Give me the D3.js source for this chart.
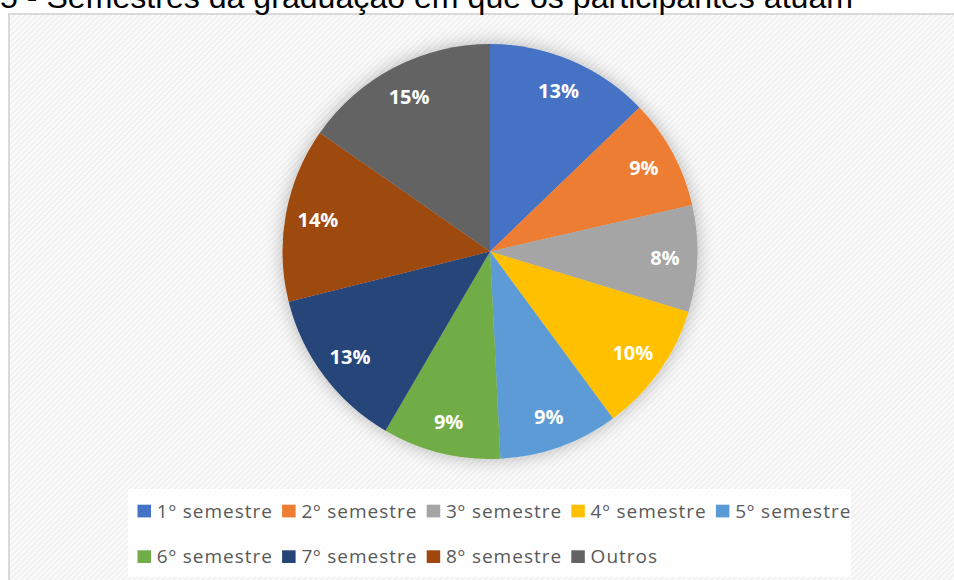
<!DOCTYPE html>
<html>
<head>
<meta charset="utf-8">
<script src="https://cdn.jsdelivr.net/npm/d3@7"></script>
<style>
  html, body { margin: 0; padding: 0; background: #ffffff; }
  svg { display: block; }
</style>
</head>
<body>
<svg id="chart" width="954" height="580"></svg>
<script>
// ---- data ----
const titleText = "5 - Semestres da graduação em que os participantes atuam";
const categories = ["1º semestre", "2º semestre", "3º semestre", "4º semestre", "5º semestre",
                    "6º semestre", "7º semestre", "8º semestre", "Outros"];
const shares = [12.8, 8.6, 8.3, 10.2, 9.3, 9.2, 12.7, 13.6, 15.3];
const colors = ["#4472C4", "#ED7D31", "#A5A5A5", "#FFC000", "#5B9BD5",
                "#70AD47", "#264478", "#9E480E", "#636363"];

const W = 954, H = 580;
const svg = d3.select("#chart");
const defs = svg.append("defs");

// hatch pattern background
const pat = defs.append("pattern")
  .attr("id", "hatch").attr("patternUnits", "userSpaceOnUse")
  .attr("width", 4).attr("height", 4)
  .attr("patternTransform", "rotate(-45)");
pat.append("rect").attr("width", 4).attr("height", 4).attr("fill", "#fbfbfb");
pat.append("rect").attr("width", 4).attr("height", 1.6).attr("fill", "#eeeeee");

// soft shadow around pie
const f = defs.append("filter").attr("id", "glow")
  .attr("x", "-30%").attr("y", "-30%").attr("width", "160%").attr("height", "160%");
f.append("feGaussianBlur").attr("in", "SourceAlpha").attr("stdDeviation", 9).attr("result", "b");
f.append("feComponentTransfer").attr("in", "b").attr("result", "b2")
  .append("feFuncA").attr("type", "linear").attr("slope", 0.28);
const fm = f.append("feMerge");
fm.append("feMergeNode").attr("in", "b2");
fm.append("feMergeNode").attr("in", "SourceGraphic");

// chart area
svg.append("rect").attr("x", 9).attr("y", 14).attr("width", W + 10).attr("height", H)
  .attr("fill", "url(#hatch)").attr("stroke", "#d9d9d9").attr("stroke-width", 2);

// title (partly cut off at the top)
svg.append("text")
  .attr("x", 0).attr("y", 8)
  .attr("textLength", 853).attr("lengthAdjust", "spacingAndGlyphs")
  .attr("font-family", "Liberation Sans, Arial, sans-serif")
  .attr("font-size", 32).attr("fill", "#000")
  .text(titleText);

// pie
const cx = 490, cy = 251.5, R = 207.5, labelR = 175;
const data = categories.map((c, i) => ({ cat: c, v: shares[i], color: colors[i] }));
const pie = d3.pie().sort(null).value(d => d.v);
const arcs = pie(data);
const arc = d3.arc().innerRadius(0).outerRadius(R);
const labelArc = d3.arc().innerRadius(labelR).outerRadius(labelR);

const g = svg.append("g").attr("transform", `translate(${cx},${cy})`);
g.append("g").attr("filter", "url(#glow)")
  .selectAll("path").data(arcs).join("path")
  .attr("d", arc).attr("fill", d => d.data.color);

g.selectAll("text.lbl").data(arcs).join("text")
  .attr("class", "lbl")
  .attr("transform", d => `translate(${labelArc.centroid(d)})`)
  .attr("text-anchor", "middle").attr("dy", "0.36em")
  .attr("font-family", "Open Sans, sans-serif").attr("font-weight", 700)
  .attr("font-size", 20).attr("fill", "#fff")
  .text(d => Math.round(d.data.v) + "%");

// legend
const legX = 128, legY = 489, legW = 723, legH = 88;
svg.append("rect").attr("x", legX).attr("y", legY).attr("width", legW).attr("height", legH)
  .attr("fill", "#ffffff").attr("opacity", 0.85);

const perRow = 5, colStep = 144.6, rowStep = 45.6;
const leg = svg.append("g").attr("transform", "translate(137.5,517.7)");
const items = leg.selectAll("g").data(data).join("g")
  .attr("transform", (d, i) => `translate(${(i % perRow) * colStep},${Math.floor(i / perRow) * rowStep})`);
items.append("rect").attr("x", 0).attr("y", -13).attr("width", 13.5).attr("height", 12.7)
  .attr("fill", d => d.color);
items.append("text").attr("x", 19.3).attr("y", 0)
  .attr("font-family", "Open Sans, sans-serif").attr("font-size", 19)
  .attr("letter-spacing", 1).attr("fill", "#595959")
  .text(d => d.cat);
</script>
</body>
</html>
